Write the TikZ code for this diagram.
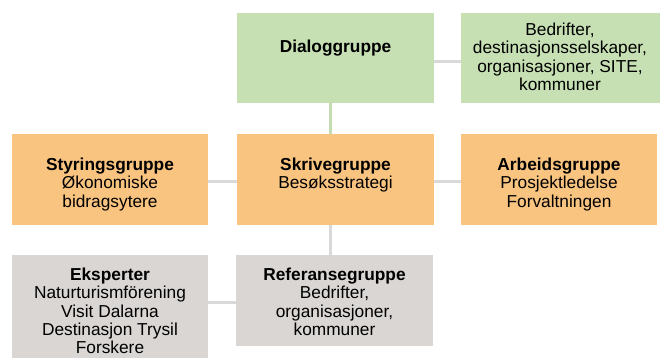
\documentclass[tikz,border=0pt]{standalone}
\usepackage{fontspec}
\setmainfont{Liberation Sans}
\definecolor{boxgreen}{HTML}{C6E0B4}
\definecolor{boxorange}{HTML}{F9C47F}
\definecolor{boxgray}{HTML}{D9D6D4}
\definecolor{lingray}{HTML}{D9D9D9}
\definecolor{lingreen}{HTML}{C3DDB0}
\begin{document}
\begin{tikzpicture}[x=1pt,y=-1pt,
  boxstyle/.style={draw=none,inner sep=0pt},
  lbl/.style={align=center,inner sep=0pt,anchor=north,font=\fontsize{17.3}{18.2}\selectfont},
  conn/.style={line width=3pt}]
\useasboundingbox (0,0) rectangle (660,358);
\begin{scope}
\clip (0,0) rectangle (660,358);
% boxes
\node[boxstyle,fill=boxgreen,minimum width=197pt,minimum height=90pt] (dia) at (335.5,58) {};
\node[boxstyle,fill=boxgreen,minimum width=199pt,minimum height=90pt] (site) at (560.5,58) {};
\node[boxstyle,fill=boxorange,minimum width=196pt,minimum height=91pt] (sty) at (110,179.5) {};
\node[boxstyle,fill=boxorange,minimum width=197pt,minimum height=91pt] (skr) at (335.5,179.5) {};
\node[boxstyle,fill=boxorange,minimum width=196pt,minimum height=91pt] (arb) at (559,179.5) {};
\node[boxstyle,fill=boxgray,minimum width=196pt,minimum height=115pt] (eks) at (110,312.5) {};
\node[boxstyle,fill=boxgray,minimum width=197pt,minimum height=91pt] (ref) at (334.5,300.5) {};
\end{scope}
\coordinate (vx) at (330,0);
% connectors
\draw[conn,lingray] (dia.east |- 0,62) -- (site.west |- 0,62);
\draw[conn,lingreen] (dia.south -| vx) -- (skr.north -| vx);
\draw[conn,lingray] (sty.east |- 0,181) -- (skr.west |- 0,181);
\draw[conn,lingray] (skr.east |- 0,181) -- (arb.west |- 0,181);
\draw[conn,lingray] (skr.south -| vx) -- (ref.north -| vx);
\draw[conn,lingray] (eks.east |- 0,302) -- (ref.west |- 0,302);
% labels
\node[lbl] (tdia) at (335.5,40) {\textbf{Dialoggruppe}};
\node[lbl] (tsite) at (560,23) {Bedrifter,\\destinasjonsselskaper,\\organisasjoner, SITE,\\kommuner};
\node[lbl] (tsty) at (110,158) {\textbf{Styringsgruppe}\\Økonomiske\\bidragsytere};
\node[lbl] (tskr) at (335.5,158) {\textbf{Skrivegruppe}\\Besøksstrategi};
\node[lbl] (tarb) at (559,158) {\textbf{Arbeidsgruppe}\\Prosjektledelse\\Forvaltningen};
\node[lbl] (teks) at (110,268) {\textbf{Eksperter}\\Naturturismförening\\Visit Dalarna\\Destinasjon Trysil\\Forskere};
\node[lbl] (tref) at (334.5,268) {\textbf{Referansegruppe}\\Bedrifter,\\organisasjoner,\\kommuner};
\end{tikzpicture}
\end{document}
